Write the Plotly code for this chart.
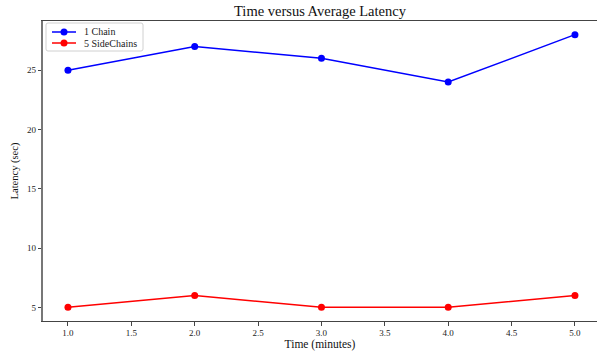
import plotly.graph_objects as go

time_min = [1.0, 2.0, 3.0, 4.0, 5.0]
one_chain = [25, 27, 26, 24, 28]
five_sidechains = [5, 6, 5, 5, 6]
series_names = ["1 Chain", "5 SideChains"]
series_colors = ["#0000ff", "#ff0000"]
x_ticks = [1.0, 1.5, 2.0, 2.5, 3.0, 3.5, 4.0, 4.5, 5.0]
y_ticks = [5, 10, 15, 20, 25]

FONT = "Liberation Serif, Times New Roman, serif"
W, H = 597, 351
ML, MR, MT, MB = 43, 0, 21, 30
PW, PH = W - ML - MR, H - MT - MB


def px(p):
    return (p - ML) / PW


def py(p):
    return (H - MB - p) / PH


fig = go.Figure()
for name, vals, col in zip(series_names, [one_chain, five_sidechains], series_colors):
    fig.add_trace(go.Scatter(x=time_min, y=vals, mode="lines+markers", name=name,
                             line=dict(color=col, width=1.5), marker=dict(color=col, size=7),
                             showlegend=False))

# custom legend (matplotlib-like compact box)
shapes = []
annotations = []
bx0, bx1, by0, by1 = 46, 143, 23, 51
r = 2
path = (f"M {px(bx0 + r)} {py(by0)} L {px(bx1 - r)} {py(by0)} Q {px(bx1)} {py(by0)} {px(bx1)} {py(by0 + r)} "
        f"L {px(bx1)} {py(by1 - r)} Q {px(bx1)} {py(by1)} {px(bx1 - r)} {py(by1)} "
        f"L {px(bx0 + r)} {py(by1)} Q {px(bx0)} {py(by1)} {px(bx0)} {py(by1 - r)} "
        f"L {px(bx0)} {py(by0 + r)} Q {px(bx0)} {py(by0)} {px(bx0 + r)} {py(by0)} Z")
shapes.append(dict(type="path", xref="paper", yref="paper", path=path,
                   line=dict(color="#d0d0d0", width=1), fillcolor="rgba(255,255,255,0.8)", layer="above"))
for i, (name, col) in enumerate(zip(series_names, series_colors)):
    yy = 32 + 11 * i
    shapes.append(dict(type="line", xref="paper", yref="paper", x0=px(52), x1=px(76), y0=py(yy), y1=py(yy),
                       line=dict(color=col, width=1.5), layer="above"))
    shapes.append(dict(type="circle", xref="paper", yref="paper", xsizemode="pixel", ysizemode="pixel",
                       xanchor=px(64), yanchor=py(yy), x0=-3.5, x1=3.5, y0=-3.5, y1=3.5,
                       fillcolor=col, line=dict(color=col, width=0), layer="above"))
    annotations.append(dict(text=name, xref="paper", yref="paper", x=px(82), y=py(yy),
                            xanchor="left", yanchor="middle", showarrow=False,
                            font=dict(family=FONT, size=10, color="#222")))

fig.update_layout(
    width=W, height=H,
    margin=dict(l=ML, r=MR, t=MT, b=MB),
    paper_bgcolor="white", plot_bgcolor="white",
    font=dict(family=FONT, size=9, color="#222"),
    title=dict(text="Time versus Average Latency", x=0.5, xref="paper", xanchor="center",
               y=1 - 10.5 / H, yref="container", yanchor="middle",
               font=dict(family=FONT, size=14.5, color="#111")),
    showlegend=False,
    shapes=shapes,
    annotations=annotations,
)
fig.update_xaxes(range=[0.803, 5.174], tickvals=x_ticks, ticktext=[f"{v:.1f}" for v in x_ticks],
                 showgrid=False, zeroline=False, showline=True, linecolor="#444", linewidth=1.2,
                 mirror=True, ticks="outside", ticklen=3.5, tickcolor="#444",
                 title=dict(text="Time (minutes)", font=dict(family=FONT, size=11.5, color="#111"), standoff=3))
fig.update_yaxes(range=[3.85, 29.15], tickvals=y_ticks, showgrid=False, zeroline=False,
                 showline=True, linecolor="#777", linewidth=1.5, mirror=False,
                 ticks="outside", ticklen=3.5, tickcolor="#444",
                 title=dict(text="Latency (sec)", font=dict(family=FONT, size=10.5, color="#111"), standoff=6))

fig.write_html("out.html")
